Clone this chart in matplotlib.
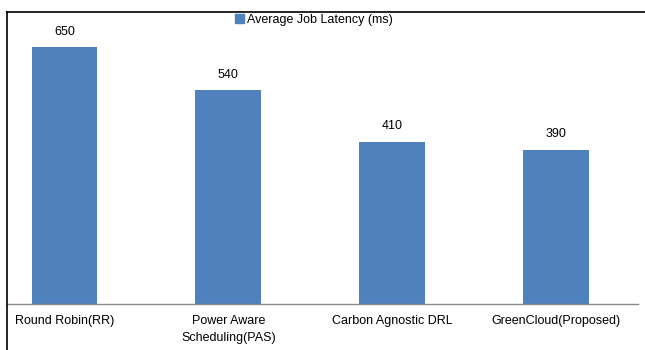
import matplotlib.pyplot as plt
from matplotlib.lines import Line2D
from matplotlib.patches import Patch

categories = ['Round Robin(RR)', 'Power Aware\nScheduling(PAS)',
              'Carbon Agnostic DRL', 'GreenCloud(Proposed)']
latency = [650, 540, 410, 390]
series_name = 'Average Job Latency (ms)'

blue = '#4F81BD'
plt.rcParams['font.family'] = ['Liberation Sans', 'DejaVu Sans']

W, H = 645, 350
fig = plt.figure(figsize=(W / 100, H / 100), dpi=100)

# plot area in pixel terms: x from 7 to 638, baseline at y=304, top at y=27
x0, x1, yb, yt = 7, 638, 304, 27
ax = fig.add_axes([x0 / W, 1 - yb / H, (x1 - x0) / W, (yb - yt) / H])

xs = range(len(categories))
bars = ax.bar(xs, latency, width=0.40, color=blue)
ax.set_xlim(-0.35, 3.5)
ax.set_ylim(0, 700)

for b, v in zip(bars, latency):
    ax.annotate(str(v), (b.get_x() + b.get_width() / 2, v),
                xytext=(0, 11), textcoords='offset points',
                ha='center', va='center', fontsize=9, color='black')

ax.set_xticks(list(xs))
ax.set_xticklabels(categories, fontsize=9, linespacing=1.55)
ax.tick_params(axis='x', length=0, pad=8)
ax.set_yticks([])
for s in ['top', 'right', 'left']:
    ax.spines[s].set_visible(False)
ax.spines['bottom'].set_color('#888888')
ax.spines['bottom'].set_linewidth(1.0)

# chart frame (cropped): top and left border
fig.add_artist(Line2D([7 / W, 1], [1 - 12 / H, 1 - 12 / H], color='black', lw=1.2))
fig.add_artist(Line2D([7 / W, 7 / W], [0, 1 - 12 / H], color='black', lw=1.2))

fig.legend(handles=[Patch(color=blue, label=series_name)],
           loc='center', bbox_to_anchor=(314 / W, 1 - 20 / H),
           frameon=False, fontsize=9, handlelength=0.7, handleheight=0.7,
           handletextpad=0.3, borderpad=0)

fig.savefig('out.png', dpi=100)
